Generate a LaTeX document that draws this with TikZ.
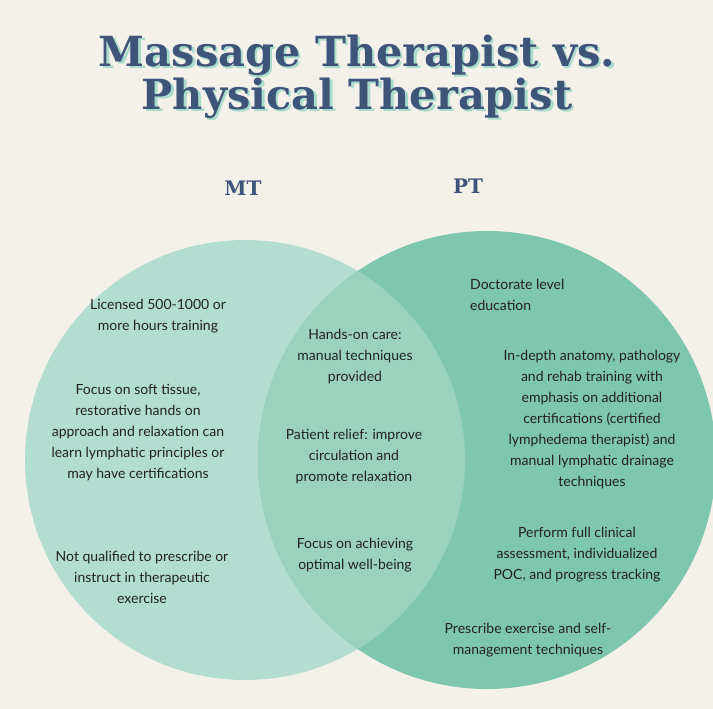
\documentclass[tikz,border=0pt]{standalone}
\usepackage{fontspec}
\setmainfont{Lato}
\newfontfamily\titlefont{DejaVu Serif}
\definecolor{bg}{HTML}{F4F1EB}
\definecolor{lc}{HTML}{B3DDD0}
\definecolor{rc}{HTML}{7FC6AE}
\definecolor{mc}{HTML}{9AD2BE}
\definecolor{tb}{HTML}{3F5479}
\definecolor{sh}{HTML}{A9DCCB}
\definecolor{tx}{HTML}{222222}
\begin{document}
\begin{tikzpicture}[x=1pt,y=-1pt,
  body/.style={font=\fontsize{14}{21}\selectfont,text=tx,align=center,inner sep=0pt},
  ttl/.style={font=\titlefont\bfseries\fontsize{41.5}{41.5}\selectfont,inner sep=0pt}]
\fill[bg] (0,0) rectangle (713,709);
\useasboundingbox (0,0) rectangle (713,709);
\fill[lc] (245,460) circle (220);
\fill[rc] (487,460) circle (229);
\begin{scope}
\clip (245,460) circle (220);
\fill[mc] (487,460) circle (229);
\end{scope}
\node[ttl,text=sh] at (359.5,57.5) {Massage Therapist vs.};
\node[ttl,text=sh] at (359.5,100.5) {Physical Therapist};
\node[ttl,text=tb] (t1) at (357,55) {Massage Therapist vs.};
\node[ttl,text=tb] (t2) at (357,98) {Physical Therapist};
\node[font=\titlefont\bfseries\fontsize{20}{20}\selectfont,text=tb] (mt) at (243,188) {MT};
\node[font=\titlefont\bfseries\fontsize{20}{20}\selectfont,text=tb] (pt) at (468,186) {PT};
\node[body] (a1) at (158,316) {Licensed 500-1000 or\\more hours training};
\node[body] (a2) at (138,433) {Focus on soft tissue,\\restorative hands on\\approach and relaxation can\\learn lymphatic principles or\\may have certifications};
\node[body] (a3) at (142,577) {Not qualified to prescribe or\\instruct in therapeutic\\exercise};
\node[body] (b1) at (355,357) {Hands-on care:\\manual techniques\\provided};
\node[body] (b2) at (354,457) {Patient relief: improve\\circulation and\\promote relaxation};
\node[body] (b3) at (355,555) {Focus on achieving\\optimal well-being};
\node[body,align=left,anchor=west] (c1) at (470,295) {Doctorate level\\education};
\node[body] (c2) at (592,420) {In-depth anatomy, pathology\\and rehab training with\\emphasis on additional\\certifications (certified\\lymphedema therapist) and\\manual lymphatic drainage\\techniques};
\node[body] (c3) at (577,555) {Perform full clinical\\assessment, individualized\\POC, and progress tracking};
\node[body] (c4) at (528,640) {Prescribe exercise and self-\\management techniques};
\end{tikzpicture}
\end{document}
